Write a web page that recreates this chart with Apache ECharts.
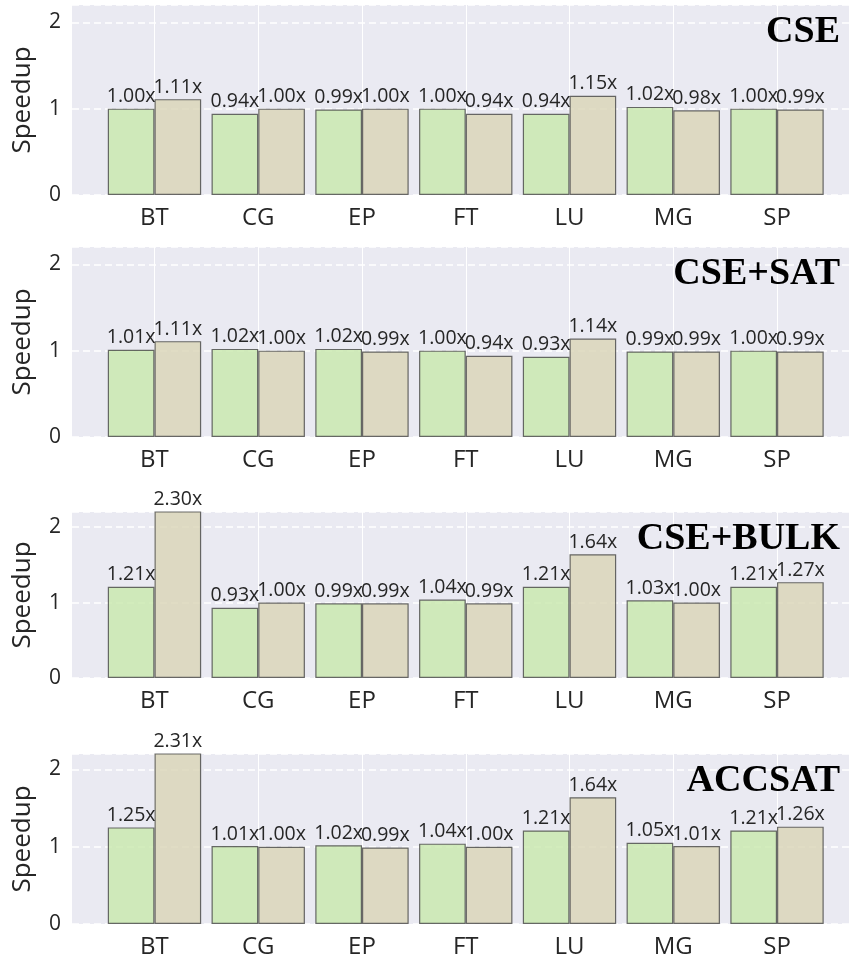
<!DOCTYPE html>
<html>
<head>
<meta charset="utf-8">
<script src="https://cdn.jsdelivr.net/npm/echarts@6/dist/echarts.min.js"></script>
<style>
  html, body { margin: 0; padding: 0; background: #ffffff; }
  #chart { width: 849px; height: 961px; }
</style>
</head>
<body>
<div id="chart"></div>
<script>
// Benchmarks on the x axis
const categories = ['BT', 'CG', 'EP', 'FT', 'LU', 'MG', 'SP'];
const panelTitles = ['CSE', 'CSE+SAT', 'CSE+BULK', 'ACCSAT'];
const yTicks = [0, 1, 2];
const yMax = 2.2;

// Speedups per panel: first (green) and second (beige) bar of each pair
const cseFirst = [1.00, 0.94, 0.99, 1.00, 0.94, 1.02, 1.00];
const cseSecond = [1.11, 1.00, 1.00, 0.94, 1.15, 0.98, 0.99];
const cseSatFirst = [1.01, 1.02, 1.02, 1.00, 0.93, 0.99, 1.00];
const cseSatSecond = [1.11, 1.00, 0.99, 0.94, 1.14, 0.99, 0.99];
const cseBulkFirst = [1.21, 0.93, 0.99, 1.04, 1.21, 1.03, 1.21];
const cseBulkSecond = [2.30, 1.00, 0.99, 0.99, 1.64, 1.00, 1.27];
const accsatFirst = [1.25, 1.01, 1.02, 1.04, 1.21, 1.05, 1.21];
const accsatSecond = [2.31, 1.00, 0.99, 1.00, 1.64, 1.01, 1.26];

const panelFirst = [cseFirst, cseSatFirst, cseBulkFirst, accsatFirst];
const panelSecond = [cseSecond, cseSatSecond, cseBulkSecond, accsatSecond];

// Vertical placement of each panel (px)
const panelTop = [5, 247, 512, 754];
const panelHeight = [190, 190, 166, 170];

const textColor = '#262626';
const sansFont = '"Open Sans", "Noto Sans", sans-serif';
const serifFont = '"Liberation Serif", "DejaVu Serif", serif';

const grids = [], xAxes = [], yAxes = [], series = [], titles = [];

panelTitles.forEach(function (name, p) {
  const bgIndex = grids.length;
  // background grid: shaded area, dashed horizontal grid and y labels
  grids.push({
    left: 72, right: 0, top: panelTop[p], height: panelHeight[p],
    show: true, backgroundColor: '#eaeaf2', borderWidth: 0
  });
  xAxes.push({ gridIndex: bgIndex, type: 'category', data: categories, show: false });
  yAxes.push({
    gridIndex: bgIndex, type: 'value', min: yTicks[0], max: yMax, interval: yTicks[1] - yTicks[0],
    name: 'Speedup', nameLocation: 'middle', nameGap: 36,
    nameTextStyle: { fontFamily: sansFont, fontSize: 26, color: textColor },
    axisLine: { show: false }, axisTick: { show: false },
    axisLabel: { fontFamily: sansFont, fontSize: 21, color: textColor, margin: 11 },
    splitLine: { show: true, lineStyle: { color: '#ffffff', width: 1.5, type: [7, 4] } }
  });

  // bar grid: category bands centred on the benchmarks
  const barIndex = grids.length;
  grids.push({ left: 102.6, right: 20.1, top: panelTop[p], height: panelHeight[p], show: false });
  xAxes.push({
    gridIndex: barIndex, type: 'category', data: categories,
    axisLine: { show: false }, axisTick: { show: false },
    axisLabel: { fontFamily: sansFont, fontSize: 24, color: textColor, margin: 11 },
    splitLine: { show: true, alignWithLabel: true, lineStyle: { color: '#ffffff', width: 1 } }
  });
  yAxes.push({ gridIndex: barIndex, type: 'value', min: yTicks[0], max: yMax, show: false });

  const label = {
    show: true, position: 'top', distance: 2,
    fontFamily: sansFont, fontSize: 19.5, color: textColor,
    formatter: function (d) { return d.value.toFixed(2) + 'x'; }
  };
  [[panelFirst[p], 'rgba(200,232,171,0.8)'], [panelSecond[p], 'rgba(218,213,181,0.8)']].forEach(function (pair) {
    series.push({
      type: 'bar', xAxisIndex: barIndex, yAxisIndex: barIndex,
      data: pair[0], barWidth: '45%', barGap: '0%', clip: true,
      itemStyle: { color: pair[1], borderColor: 'rgba(70,70,70,0.8)', borderWidth: 1.2 },
      label: label, emphasis: { disabled: true }, animation: false
    });
  });

  titles.push({
    text: name, right: 9, top: panelTop[p] + 8, padding: 0,
    textStyle: { fontFamily: serifFont, fontWeight: 'bold', fontSize: 38, color: '#000000' }
  });
});

const chart = echarts.init(document.getElementById('chart'), null, { renderer: 'canvas' });
chart.setOption({
  animation: false,
  title: titles,
  grid: grids,
  xAxis: xAxes,
  yAxis: yAxes,
  series: series
});
</script>
</body>
</html>
